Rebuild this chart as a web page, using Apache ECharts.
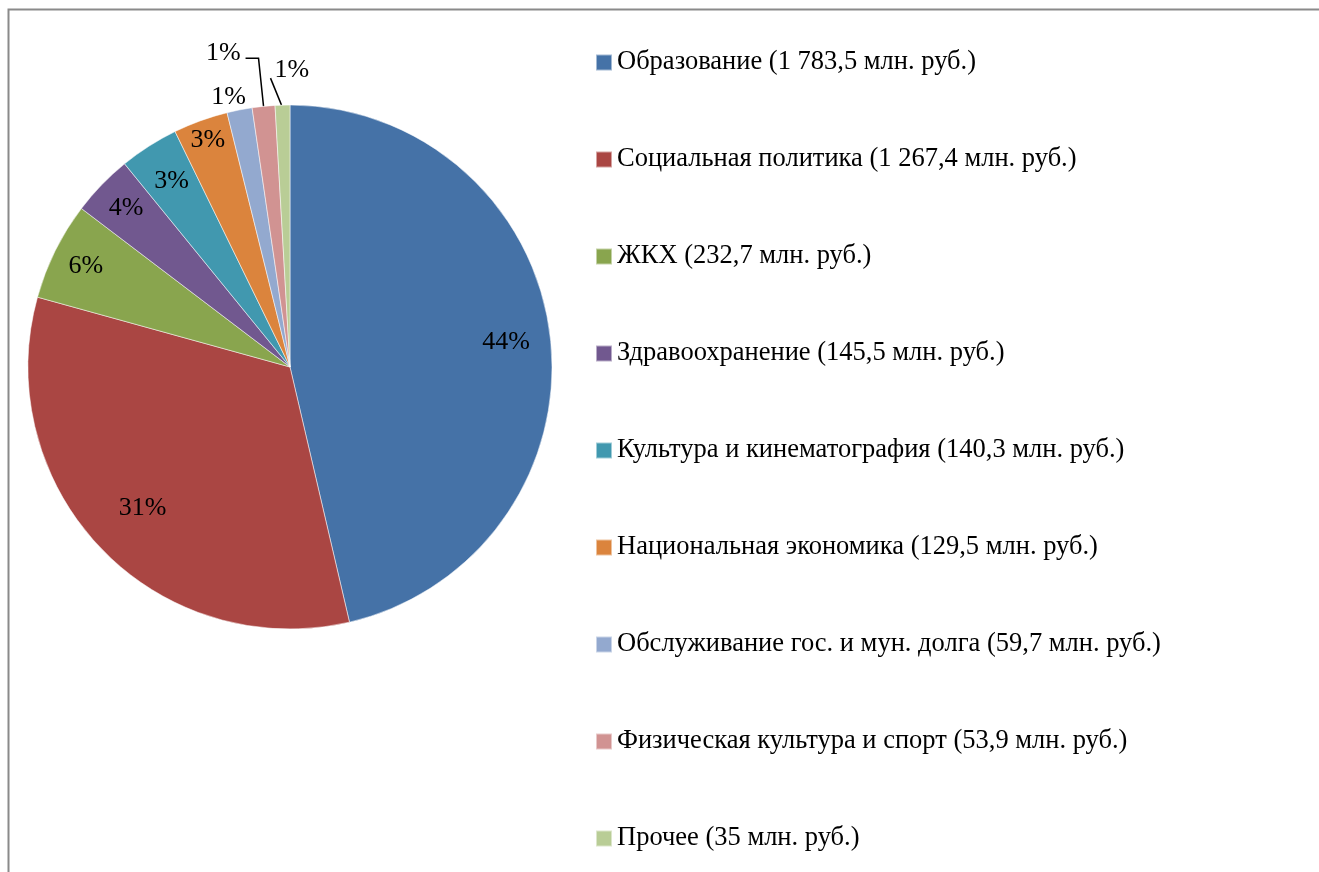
<!DOCTYPE html>
<html>
<head>
<meta charset="utf-8">
<script src="https://cdn.jsdelivr.net/npm/echarts@6/dist/echarts.min.js"></script>
<style>
html,body{margin:0;padding:0;background:#fff;}
#chart{width:1319px;height:872px;}
</style>
</head>
<body>
<div id="chart"></div>
<script>
const categories = ['Образование', 'Социальная политика', 'ЖКХ', 'Здравоохранение', 'Культура и кинематография', 'Национальная экономика', 'Обслуживание гос. и мун. долга', 'Физическая культура и спорт', 'Прочее'];
const values = [1783.5, 1267.4, 232.7, 145.5, 140.3, 129.5, 59.7, 53.9, 35];
const valueLabels = ['1 783,5', '1 267,4', '232,7', '145,5', '140,3', '129,5', '59,7', '53,9', '35'];
const percentLabels = ['44%', '31%', '6%', '4%', '3%', '3%', '1%', '1%', '1%'];
const unit = 'млн. руб.';

const colors = ['#4572A7', '#AA4643', '#89A54E', '#71588F', '#4198AF', '#DB843D', '#93A9CF', '#D19392', '#B9CD96'];
const CX = 290, CY = 367, R = 262;
const labelRadiusRatio = [0.83, 0.78, 0.87, 0.87, 0.84, 0.92];
const FONT = '"Liberation Serif", "Times New Roman", serif';

const names = categories.map((c, i) => c + ' (' + valueLabels[i] + ' ' + unit + ')');
const data = values.map((v, i) => {
  const item = { name: names[i], value: v };
  if (i >= 6) {
    item.label = { position: 'outside' };
    item.labelLine = { show: i !== 6 };
  }
  return item;
});

const chart = echarts.init(document.getElementById('chart'));
chart.setOption({
  backgroundColor: '#fff',
  color: colors,
  animation: false,
  graphic: [{
    type: 'polyline',
    shape: { points: [[8.5, 872], [8.5, 9.5], [1319, 9.5]] },
    style: { stroke: '#8a8a8a', lineWidth: 2, fill: null },
    silent: true
  }],
  legend: {
    orient: 'vertical',
    left: 595,
    top: 49,
    padding: 0,
    icon: 'rect',
    itemWidth: 16,
    itemHeight: 16,
    itemGap: 70,
    textStyle: { fontFamily: FONT, fontSize: 26.5, color: '#000', lineHeight: 26 },
    selectedMode: false,
    data: names
  },
  series: [{
    type: 'pie',
    center: [CX, CY],
    radius: [0, R],
    startAngle: 90,
    clockwise: true,
    avoidLabelOverlap: false,
    itemStyle: { borderColor: 'rgba(255,255,255,0.5)', borderWidth: 1 },
    label: {
      show: true,
      position: 'inside',
      fontFamily: FONT,
      fontSize: 26,
      color: '#000',
      formatter: p => percentLabels[p.dataIndex]
    },
    labelLine: { show: false, lineStyle: { color: '#000', width: 1.5 } },
    emphasis: { disabled: true },
    labelLayout: function (params) {
      const i = params.dataIndex;
      if (i < 6) {
        const r = params.labelRect;
        const lx = r.x + r.width / 2, ly = r.y + r.height / 2;
        const vx = lx - CX, vy = ly - CY;
        const d = Math.hypot(vx, vy) || 1;
        const t = labelRadiusRatio[i] * R;
        return { dx: vx / d * (t - d), dy: vy / d * (t - d) };
      }
      const pts = params.labelLinePoints;
      if (!pts) return {};
      const p0 = pts[0];
      if (i === 6) {
        return { x: p0[0] - 11, y: p0[1] - 13, align: 'center', verticalAlign: 'middle' };
      }
      if (i === 7) {
        return {
          x: p0[0] - 23, y: p0[1] - 53, align: 'right', verticalAlign: 'middle',
          labelLinePoints: [p0, [p0[0] - 5, p0[1] - 48], [p0[0] - 18, p0[1] - 48]]
        };
      }
      return {
        x: p0[0] - 8, y: p0[1] - 35, align: 'left', verticalAlign: 'middle',
        labelLinePoints: [[p0[0] - 1, p0[1]], [p0[0] - 12, p0[1] - 27], [p0[0] - 12, p0[1] - 27]]
      };
    },
    data: data
  }]
});
</script>
</body>
</html>
